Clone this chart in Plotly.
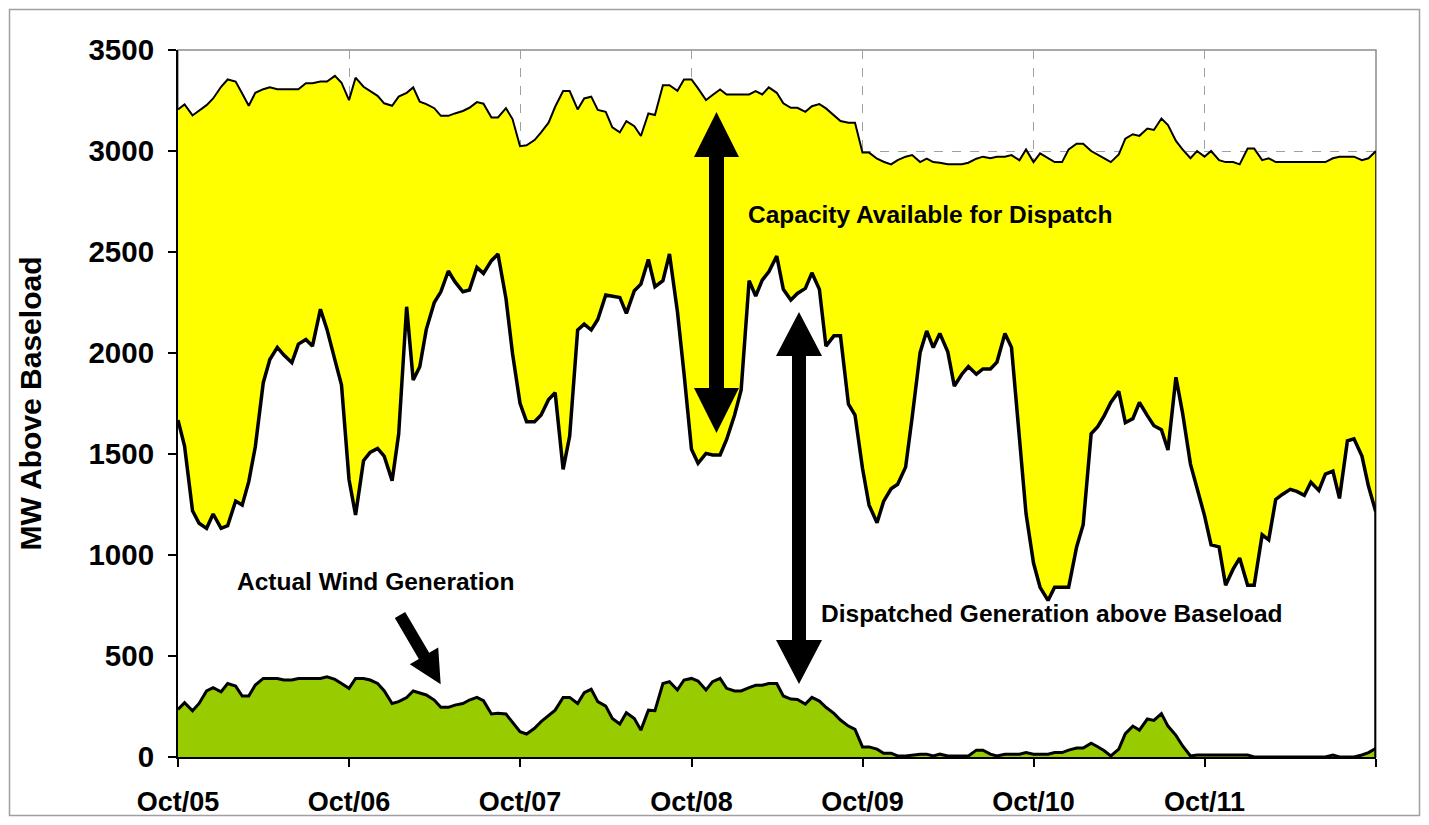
import math
import pandas as pd
import plotly.graph_objects as go

# ---------------- data (semi-monthly, Oct 2005 - Oct 2012) ----------------
dates = pd.date_range("2005-10-01", "2012-10-01", freq="SMS")

capacity = [
    3206, 3231, 3176, 3199, 3227, 3260, 3318, 3354, 3344, 3285,
    3224, 3288, 3306, 3316, 3306, 3306, 3306, 3306, 3335, 3336,
    3344, 3344, 3372, 3338, 3252, 3363, 3318, 3298, 3273, 3236,
    3224, 3269, 3288, 3315, 3244, 3232, 3212, 3174, 3174, 3186,
    3198, 3214, 3242, 3234, 3166, 3166, 3212, 3158, 3024, 3028,
    3054, 3092, 3140, 3219, 3297, 3297, 3206, 3260, 3269, 3203,
    3194, 3117, 3092, 3148, 3123, 3074, 3186, 3178, 3326, 3326,
    3298, 3354, 3354, 3310, 3252, 3277, 3305, 3280, 3280, 3280,
    3280, 3297, 3280, 3315, 3288, 3236, 3214, 3214, 3194, 3222,
    3232, 3211, 3178, 3148, 3140, 3140, 2992, 2992, 2962, 2947,
    2934, 2955, 2972, 2980, 2945, 2962, 2945, 2942, 2934, 2934,
    2934, 2942, 2962, 2972, 2964, 2972, 2972, 2980, 2954, 3008,
    2945, 2988, 2964, 2945, 2945, 3008, 3036, 3036, 3000, 2980,
    2964, 2945, 2983, 3061, 3083, 3075, 3111, 3104, 3161, 3128,
    3050, 3008, 2964, 3000, 2972, 3000, 2955, 2945, 2945, 2934,
    3012, 3012, 2955, 2964, 2945, 2945, 2945, 2945, 2945, 2945,
    2945, 2945, 2964, 2972, 2972, 2972, 2955, 2964, 3000,
]

dispatched = [
    1668, 1539, 1219, 1157, 1132, 1203, 1132, 1145, 1267, 1247,
    1363, 1536, 1853, 1968, 2028, 1990, 1952, 2044, 2067, 2034,
    2217, 2117, 1965, 1841, 1374, 1198, 1467, 1508, 1528, 1490,
    1368, 1599, 2229, 1866, 1932, 2117, 2250, 2303, 2406, 2353,
    2303, 2312, 2424, 2394, 2457, 2490, 2270, 1998, 1751, 1660,
    1660, 1693, 1770, 1803, 1424, 1589, 2114, 2143, 2114, 2166,
    2287, 2282, 2275, 2196, 2308, 2341, 2463, 2328, 2358, 2490,
    2204, 1899, 1523, 1454, 1503, 1495, 1495, 1572, 1693, 1817,
    2358, 2282, 2361, 2402, 2480, 2315, 2262, 2295, 2320, 2397,
    2315, 2034, 2085, 2085, 1747, 1693, 1429, 1247, 1160, 1265,
    1328, 1350, 1435, 1682, 2003, 2109, 2027, 2097, 2006, 1836,
    1895, 1933, 1895, 1921, 1921, 1955, 2097, 2028, 1580, 1205,
    960, 840, 775, 840, 840, 840, 1040, 1150, 1600, 1635,
    1690, 1755, 1810, 1655, 1675, 1755, 1690, 1640, 1620, 1520,
    1880, 1705, 1450, 1335, 1195, 1050, 1040, 850, 930, 985,
    850, 850, 1100, 1075, 1275, 1300, 1325, 1315, 1295, 1360,
    1320, 1400, 1415, 1280, 1565, 1575, 1490, 1340, 1210,
]

wind = [
    236, 269, 229, 265, 327, 343, 323, 364, 351, 302,
    302, 356, 389, 389, 389, 381, 381, 389, 389, 389,
    389, 397, 384, 364, 340, 389, 389, 381, 364, 328,
    265, 274, 294, 327, 315, 307, 282, 246, 246, 257,
    265, 282, 295, 279, 213, 216, 213, 170, 125, 114,
    142, 175, 208, 232, 295, 295, 265, 318, 335, 274,
    252, 191, 163, 219, 191, 133, 232, 229, 364, 373,
    332, 381, 389, 376, 332, 373, 389, 340, 327, 327,
    343, 355, 355, 364, 364, 302, 287, 285, 262, 295,
    277, 246, 216, 183, 153, 137, 50, 50, 39, 19,
    19, 5, 5, 10, 14, 14, 5, 14, 5, 5,
    5, 5, 34, 34, 14, 5, 14, 14, 14, 22,
    14, 14, 14, 22, 22, 34, 44, 44, 68, 51,
    31, 5, 39, 116, 153, 133, 188, 181, 215, 153,
    107, 56, 5, 10, 10, 10, 10, 10, 10, 10,
    10, 0, 0, 0, 0, 0, 0, 0, 0, 0,
    0, 0, 10, 0, 0, 0, 10, 22, 43,
]

tick_dates = ["2005-10-01", "2006-10-01", "2007-10-01", "2008-10-01",
              "2009-10-01", "2010-10-01", "2011-10-01", "2012-10-01"]
tick_labels = ["Oct/05", "Oct/06", "Oct/07", "Oct/08",
               "Oct/09", "Oct/10", "Oct/11", ""]

label_capacity = "Capacity Available for Dispatch"
label_dispatch = "Dispatched Generation above Baseload"
label_wind = "Actual Wind Generation"
y_title = "MW Above Baseload"

# ---------------- layout helpers ----------------
# the page body adds an 8px offset, so the figure is drawn 16px smaller
OFF = 8
W, H = 1429 - 2 * OFF, 825 - 2 * OFF
PL, PR, PT, PB = 178, 1376, 50, 757          # plot area in screen pixels
L, T = PL - OFF, PT - OFF
R, B = W - (PR - OFF), H - (PB - OFF)
PW, PH = PR - PL, PB - PT

def px(x):
    return (x - PL) / PW

def py(y):
    return (PB - y) / PH

def arrow_path(x0, y0, x1, y1, sw, hl, hw, double):
    dx, dy = x1 - x0, y1 - y0
    n = math.hypot(dx, dy)
    ux, uy = dx / n, dy / n
    nx, ny = -uy, ux
    b1 = (x1 - ux * hl, y1 - uy * hl)
    pts = [(x1, y1),
           (b1[0] + nx * hw / 2, b1[1] + ny * hw / 2),
           (b1[0] + nx * sw / 2, b1[1] + ny * sw / 2)]
    if double:
        b0 = (x0 + ux * hl, y0 + uy * hl)
        pts += [(b0[0] + nx * sw / 2, b0[1] + ny * sw / 2),
                (b0[0] + nx * hw / 2, b0[1] + ny * hw / 2),
                (x0, y0),
                (b0[0] - nx * hw / 2, b0[1] - ny * hw / 2),
                (b0[0] - nx * sw / 2, b0[1] - ny * sw / 2)]
    else:
        pts += [(x0 + nx * sw / 2, y0 + ny * sw / 2),
                (x0 - nx * sw / 2, y0 - ny * sw / 2)]
    pts += [(b1[0] - nx * sw / 2, b1[1] - ny * sw / 2),
            (b1[0] - nx * hw / 2, b1[1] - ny * hw / 2)]
    return "M " + " L ".join(f"{px(a):.5f},{py(b):.5f}" for a, b in pts) + " Z"

FONT = "Liberation Sans, Arial, sans-serif"

fig = go.Figure()
fig.add_trace(go.Scatter(x=dates, y=capacity, mode="lines", fill="tozeroy",
                         fillcolor="#FFFF00", line=dict(color="black", width=2),
                         name="Capacity"))
fig.add_trace(go.Scatter(x=dates, y=dispatched, mode="lines", fill="tozeroy",
                         fillcolor="white", line=dict(color="black", width=3.5),
                         name="Dispatched"))
fig.add_trace(go.Scatter(x=dates, y=wind, mode="lines", fill="tozeroy",
                         fillcolor="#99CC00", line=dict(color="black", width=3),
                         name="Wind"))

# right-hand edges of the area series
fig.add_shape(type="line", xref="x", yref="y", x0=dates[-1], x1=dates[-1],
              y0=0, y1=capacity[-1], line=dict(color="black", width=1.5))
fig.add_shape(type="line", xref="x", yref="y", x0=dates[-1], x1=dates[-1],
              y0=0, y1=dispatched[-1], line=dict(color="black", width=3.5))

# plot-area frame (top/right grey)
fig.add_shape(type="rect", xref="paper", yref="paper", x0=0, x1=1, y0=0, y1=1,
              line=dict(color="#8C8C8C", width=1.5), layer="below")
# outer chart border (just inside the figure edges)
fig.add_shape(type="rect", xref="paper", yref="paper",
              x0=px(OFF + 1.5), x1=px(OFF + W - 1.5),
              y0=py(OFF + H - 1.5), y1=py(OFF + 1.5),
              line=dict(color="#A0A0A0", width=1.5), layer="below")

# arrows
for (x0, y0, x1, y1, sw, hl, hw, dbl) in [
        (716.5, 112, 716.5, 433, 15, 45, 45, True),
        (799, 312, 799, 684, 14, 44, 46, True),
        (400, 615, 440.7, 684.3, 12, 33, 33, False)]:
    fig.add_shape(type="path", xref="paper", yref="paper",
                  path=arrow_path(x0, y0, x1, y1, sw, hl, hw, dbl),
                  fillcolor="black", line=dict(width=0))

for txt, cx, cy in [(label_capacity, 930, 215), (label_dispatch, 1052, 613),
                    (label_wind, 375, 581)]:
    fig.add_annotation(text=txt, xref="paper", yref="paper", x=px(cx), y=py(cy),
                       showarrow=False, xanchor="center", yanchor="middle",
                       font=dict(family=FONT, size=24.5, color="black", weight="bold"))

fig.update_layout(
    width=W, height=H,
    margin=dict(l=L, r=R, t=T, b=B, autoexpand=False),
    paper_bgcolor="white", plot_bgcolor="white",
    showlegend=False,
)
fig.update_xaxes(
    type="date", range=[tick_dates[0], tick_dates[-1]], automargin=False,
    tickmode="array", tickvals=tick_dates, ticktext=tick_labels,
    ticks="outside", ticklen=8, tickwidth=1.5, tickcolor="black",
    showline=True, linecolor="black", linewidth=2,
    showgrid=True, gridcolor="#A0A0A0", griddash="dash", gridwidth=1,
    tickfont=dict(family=FONT, size=27, color="black", weight="bold"),
    ticklabelstandoff=12, zeroline=False,
)
fig.update_yaxes(
    range=[0, 3500], dtick=500, tick0=0, automargin=False,
    ticks="outside", ticklen=8, tickwidth=1.5, tickcolor="black",
    showline=True, linecolor="black", linewidth=2,
    showgrid=True, gridcolor="#A0A0A0", griddash="dash", gridwidth=1,
    tickfont=dict(family=FONT, size=29.5, color="black", weight="bold"),
    ticklabelstandoff=8, zeroline=False,
    title=dict(text=y_title, standoff=38,
               font=dict(family=FONT, size=30, color="black", weight="bold")),
)

fig.write_html("out.html")
